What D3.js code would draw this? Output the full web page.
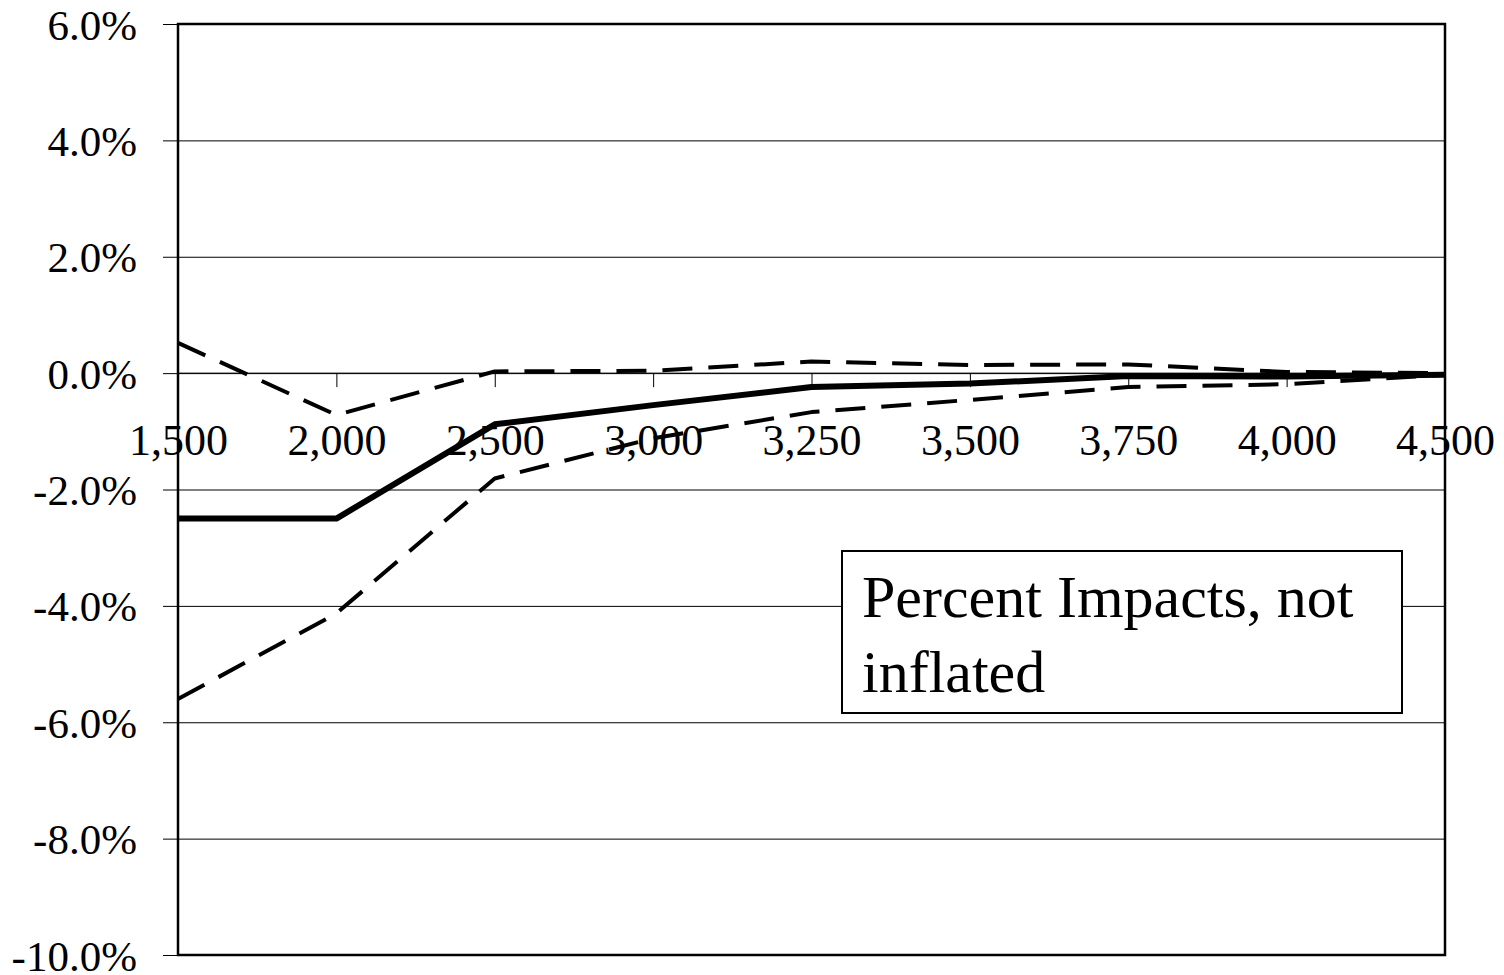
<!DOCTYPE html>
<html>
<head>
<meta charset="utf-8">
<script src="https://cdn.jsdelivr.net/npm/d3@7"></script>
<style>
  html, body { margin: 0; padding: 0; background: #fff; }
  svg { display: block; }
  text { font-family: "Liberation Serif", "Times New Roman", serif; fill: #000; }
</style>
</head>
<body>
<svg id="chart" width="1504" height="975"></svg>
<script>
// Income levels on the category axis
const categories = ["1,500", "2,000", "2,500", "3,000", "3,250", "3,500", "3,750", "4,000", "4,500"];
// Percent impacts (in %): central estimate and the two bounds
const centralImpact = [-2.5, -2.5, -0.88, -0.55, -0.24, -0.18, -0.05, -0.06, -0.03];
const upperBound    = [0.52, -0.72, 0.03, 0.04, 0.20, 0.14, 0.15, 0.02, 0.0];
const lowerBound    = [-5.6, -4.13, -1.81, -1.12, -0.67, -0.46, -0.24, -0.19, -0.03];
// Value axis ticks (in %)
const yTicks = [6, 4, 2, 0, -2, -4, -6, -8, -10];
const boxLines = ["Percent Impacts, not", "inflated"];

const svg = d3.select("#chart");
const plot = { left: 178, right: 1445, top: 24, bottom: 955 };

const x = d3.scalePoint().domain(categories).range([plot.left, plot.right]);
const y = d3.scaleLinear().domain([-10, 6]).range([plot.bottom, plot.top]);

// Percent labels with a plain hyphen for negatives
const pct = d => (d < 0 ? "-" : "") + Math.abs(d).toFixed(1) + "%";

// Horizontal gridlines with outward ticks on the value axis
const yAxis = d3.axisLeft(y)
  .tickValues(yTicks)
  .tickSize(plot.right - plot.left + 15)
  .tickFormat(pct);
const gy = svg.append("g")
  .attr("transform", `translate(${plot.right},0)`)
  .call(yAxis);
gy.select(".domain").remove();
gy.selectAll(".tick line").attr("stroke", "#000").attr("stroke-width", 1);
gy.selectAll(".tick text")
  .attr("x", -(plot.right - plot.left) - 41)
  .attr("dy", "0.35em")
  .style("font-size", "43px")
  .attr("text-anchor", "end");

// Category axis crossing at 0%
const xAxis = d3.axisBottom(x).tickSize(14).tickPadding(0);
const gx = svg.append("g")
  .attr("transform", `translate(0,${y(0)})`)
  .call(xAxis);
gx.select(".domain").attr("stroke", "#000").attr("stroke-width", 1)
  .attr("d", `M${plot.left},0H${plot.right}`);
gx.selectAll(".tick line").attr("stroke", "#000").attr("stroke-width", 1);
gx.selectAll(".tick text")
  .attr("y", 82)
  .attr("dy", 0)
  .style("font-size", "44px")
  .attr("text-anchor", "middle");

// Plot area frame
svg.append("rect")
  .attr("x", plot.left).attr("y", plot.top)
  .attr("width", plot.right - plot.left)
  .attr("height", plot.bottom - plot.top)
  .attr("fill", "none")
  .attr("stroke", "#000")
  .attr("stroke-width", 2.5);

const line = d3.line()
  .x((d, i) => x(categories[i]))
  .y(d => y(d));

// Bounds (dashed) and central estimate (solid)
[upperBound, lowerBound].forEach(series => {
  svg.append("path")
    .datum(series)
    .attr("d", line)
    .attr("fill", "none")
    .attr("stroke", "#000")
    .attr("stroke-width", 4)
    .attr("stroke-dasharray", "30,16")
    .attr("stroke-linejoin", "round");
});
svg.append("path")
  .datum(centralImpact)
  .attr("d", line)
  .attr("fill", "none")
  .attr("stroke", "#000")
  .attr("stroke-width", 6)
  .attr("stroke-linejoin", "round");

// Annotation text box
const box = svg.append("g");
box.append("rect")
  .attr("x", 842).attr("y", 551)
  .attr("width", 560).attr("height", 162)
  .attr("fill", "#fff")
  .attr("stroke", "#000")
  .attr("stroke-width", 2);
box.selectAll("text.note")
  .data(boxLines)
  .join("text")
  .attr("class", "note")
  .attr("x", 862)
  .attr("y", (d, i) => 617 + i * 75)
  .style("font-size", "60px")
  .text(d => d);
</script>
</body>
</html>
